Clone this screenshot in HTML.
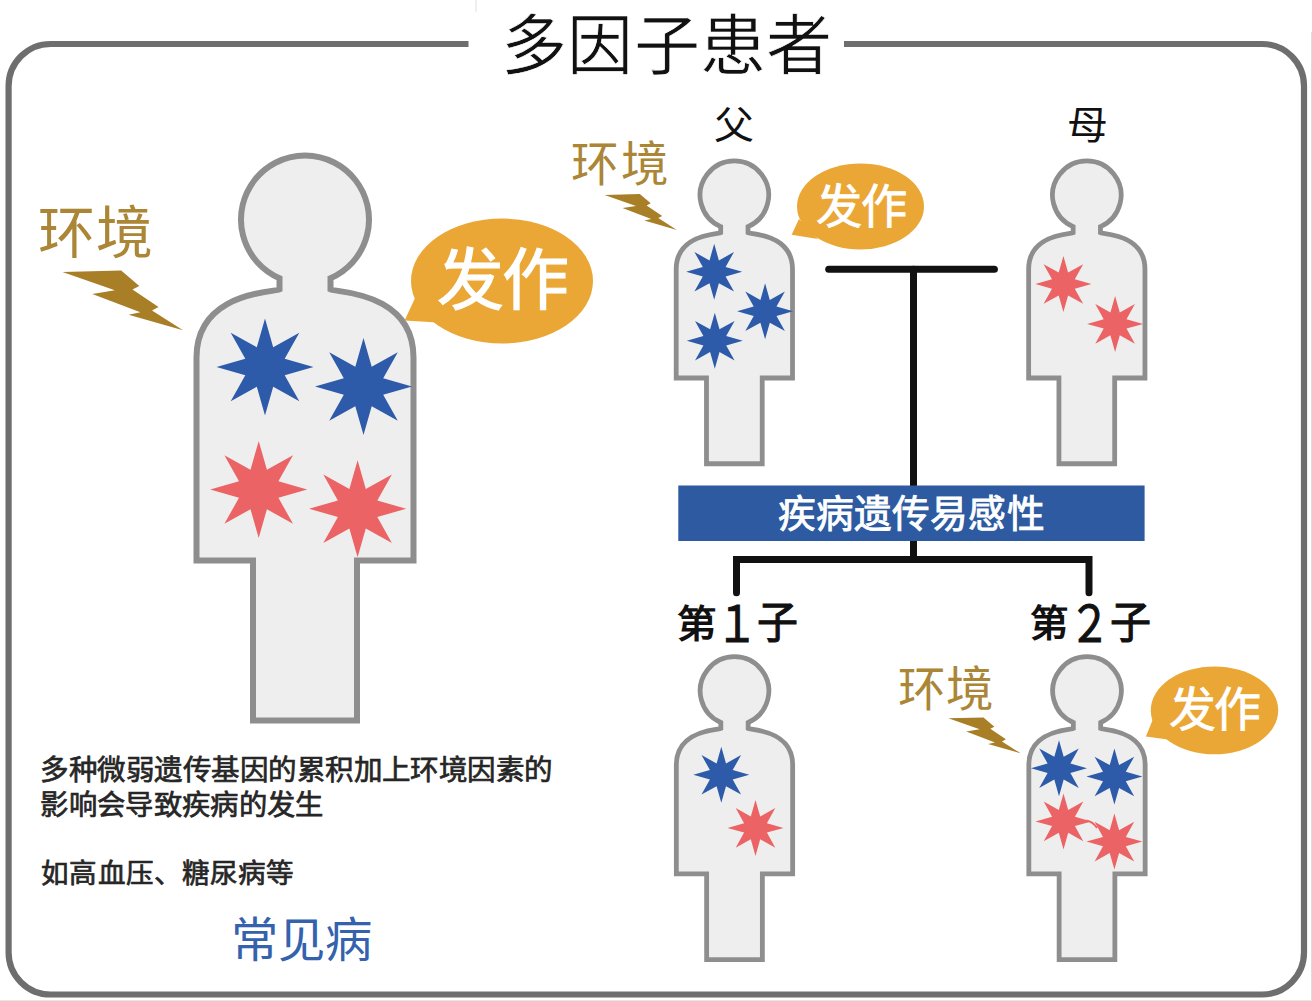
<!DOCTYPE html>
<html lang="zh-CN"><head><meta charset="utf-8"><title>多因子患者</title>
<style>html,body{margin:0;padding:0;background:#fff;width:1312px;height:1001px;overflow:hidden}svg{display:block;font-family:"Liberation Sans",sans-serif}</style>
</head><body>
<svg width="1312" height="1001" viewBox="0 0 1312 1001">
<rect width="1312" height="1001" fill="#fff"/>
<path d="M468.5,44 H50.6 A42,42 0 0 0 8.6,86 V952.5 A42,42 0 0 0 50.6,994.5 H1262 A42,42 0 0 0 1304,952.5 V86 A42,42 0 0 0 1262,44 H844" fill="none" stroke="#6e6e6e" stroke-width="6.2"/>
<line x1="476" y1="0" x2="476" y2="12" stroke="#efefef" stroke-width="2"/>
<line x1="1311.5" y1="32" x2="1311.5" y2="1001" stroke="#dcdcdc" stroke-width="1"/><line x1="0" y1="1000.5" x2="1312" y2="1000.5" stroke="#e6e6e6" stroke-width="1"/>
<path d="M279.50,278.20 A64.00,64.00 0 1 1 330.50,278.20 L330.50,289.50 C335.00,292.00 413.50,291.50 413.50,357.50 L413.50,560.50 L357.00,560.50 L357.00,720.50 L253.00,720.50 L253.00,560.50 L196.50,560.50 L196.50,357.50 C196.50,291.50 275.00,292.00 279.50,289.50 Z" fill="#eeeeee" stroke="#8e8e8e" stroke-width="6.0" stroke-linejoin="miter"/>
<polygon fill="#2d5baa" points="265.0,318.5 273.2,347.3 299.3,332.7 284.7,358.8 313.5,367.0 284.7,375.2 299.3,401.3 273.2,386.7 265.0,415.5 256.8,386.7 230.7,401.3 245.3,375.2 216.5,367.0 245.3,358.8 230.7,332.7 256.8,347.3"/>
<polygon fill="#2d5baa" points="363.5,338.0 371.7,366.8 397.8,352.2 383.2,378.3 412.0,386.5 383.2,394.7 397.8,420.8 371.7,406.2 363.5,435.0 355.3,406.2 329.2,420.8 343.8,394.7 315.0,386.5 343.8,378.3 329.2,352.2 355.3,366.8"/>
<polygon fill="#eb6364" points="258.7,441.0 266.9,469.8 293.0,455.2 278.4,481.3 307.2,489.5 278.4,497.7 293.0,523.8 266.9,509.2 258.7,538.0 250.5,509.2 224.4,523.8 239.0,497.7 210.2,489.5 239.0,481.3 224.4,455.2 250.5,469.8"/>
<polygon fill="#eb6364" points="357.6,460.3 365.8,489.1 391.9,474.5 377.3,500.6 406.1,508.8 377.3,517.0 391.9,543.1 365.8,528.5 357.6,557.3 349.4,528.5 323.3,543.1 337.9,517.0 309.1,508.8 337.9,500.6 323.3,474.5 349.4,489.1"/>
<polygon fill="#a87e26" points="62.5,272.0 121.2,270.5 139.3,286.0 132.5,289.5 158.5,307.0 152.0,310.5 183.0,330.3 128.6,314.8 140.4,312.2 92.3,294.0 114.8,290.3"/>
<ellipse cx="502.0" cy="281.0" rx="91.0" ry="62.5" fill="#eaa736"/><polygon fill="#eaa736" points="404.6,320.5 416.0,296.0 445.0,323.0"/>
<path d="M720.68,226.66 A34.30,34.30 0 1 1 748.02,226.66 L748.02,232.72 C750.43,234.06 792.51,233.79 792.51,269.17 L792.51,377.98 L762.22,377.98 L762.22,463.74 L706.48,463.74 L706.48,377.98 L676.19,377.98 L676.19,269.17 C676.19,233.79 718.27,234.06 720.68,232.72 Z" fill="#eeeeee" stroke="#8e8e8e" stroke-width="4.8" stroke-linejoin="miter"/>
<path d="M1073.13,226.66 A34.30,34.30 0 1 1 1100.47,226.66 L1100.47,232.72 C1102.88,234.06 1144.96,233.79 1144.96,269.17 L1144.96,377.98 L1114.67,377.98 L1114.67,463.74 L1058.93,463.74 L1058.93,377.98 L1028.64,377.98 L1028.64,269.17 C1028.64,233.79 1070.72,234.06 1073.13,232.72 Z" fill="#eeeeee" stroke="#8e8e8e" stroke-width="4.8" stroke-linejoin="miter"/>
<path d="M720.83,722.46 A34.30,34.30 0 1 1 748.17,722.46 L748.17,728.52 C750.58,729.86 792.66,729.59 792.66,764.97 L792.66,873.78 L762.37,873.78 L762.37,959.54 L706.63,959.54 L706.63,873.78 L676.34,873.78 L676.34,764.97 C676.34,729.59 718.42,729.86 720.83,728.52 Z" fill="#eeeeee" stroke="#8e8e8e" stroke-width="4.8" stroke-linejoin="miter"/>
<path d="M1073.33,722.46 A34.30,34.30 0 1 1 1100.67,722.46 L1100.67,728.52 C1103.08,729.86 1145.16,729.59 1145.16,764.97 L1145.16,873.78 L1114.87,873.78 L1114.87,959.54 L1059.13,959.54 L1059.13,873.78 L1028.84,873.78 L1028.84,764.97 C1028.84,729.59 1070.92,729.86 1073.33,728.52 Z" fill="#eeeeee" stroke="#8e8e8e" stroke-width="4.8" stroke-linejoin="miter"/>
<polygon fill="#2d5baa" points="714.2,243.8 718.9,260.4 734.0,252.0 725.6,267.1 742.2,271.8 725.6,276.5 734.0,291.6 718.9,283.2 714.2,299.8 709.5,283.2 694.4,291.6 702.8,276.5 686.2,271.8 702.8,267.1 694.4,252.0 709.5,260.4"/>
<polygon fill="#2d5baa" points="765.1,283.3 769.8,299.9 784.9,291.5 776.5,306.6 793.1,311.3 776.5,316.0 784.9,331.1 769.8,322.7 765.1,339.3 760.4,322.7 745.3,331.1 753.7,316.0 737.1,311.3 753.7,306.6 745.3,291.5 760.4,299.9"/>
<polygon fill="#2d5baa" points="714.8,312.7 719.5,329.3 734.6,320.9 726.2,336.0 742.8,340.7 726.2,345.4 734.6,360.5 719.5,352.1 714.8,368.7 710.1,352.1 695.0,360.5 703.4,345.4 686.8,340.7 703.4,336.0 695.0,320.9 710.1,329.3"/>
<polygon fill="#eb6364" points="1063.4,256.0 1068.1,272.6 1083.2,264.2 1074.8,279.3 1091.4,284.0 1074.8,288.7 1083.2,303.8 1068.1,295.4 1063.4,312.0 1058.7,295.4 1043.6,303.8 1052.0,288.7 1035.4,284.0 1052.0,279.3 1043.6,264.2 1058.7,272.6"/>
<polygon fill="#eb6364" points="1115.1,295.9 1119.8,312.5 1134.9,304.1 1126.5,319.2 1143.1,323.9 1126.5,328.6 1134.9,343.7 1119.8,335.3 1115.1,351.9 1110.4,335.3 1095.3,343.7 1103.7,328.6 1087.1,323.9 1103.7,319.2 1095.3,304.1 1110.4,312.5"/>
<polygon fill="#2d5baa" points="721.3,746.8 726.0,763.4 741.1,755.0 732.7,770.1 749.3,774.8 732.7,779.5 741.1,794.6 726.0,786.2 721.3,802.8 716.6,786.2 701.5,794.6 709.9,779.5 693.3,774.8 709.9,770.1 701.5,755.0 716.6,763.4"/>
<polygon fill="#eb6364" points="755.5,799.9 760.2,816.5 775.3,808.1 766.9,823.2 783.5,827.9 766.9,832.6 775.3,847.7 760.2,839.3 755.5,855.9 750.8,839.3 735.7,847.7 744.1,832.6 727.5,827.9 744.1,823.2 735.7,808.1 750.8,816.5"/>
<polygon fill="#2d5baa" points="1059.0,740.2 1063.7,756.8 1078.8,748.4 1070.4,763.5 1087.0,768.2 1070.4,772.9 1078.8,788.0 1063.7,779.6 1059.0,796.2 1054.3,779.6 1039.2,788.0 1047.6,772.9 1031.0,768.2 1047.6,763.5 1039.2,748.4 1054.3,756.8"/>
<polygon fill="#2d5baa" points="1114.4,748.5 1119.1,765.1 1134.2,756.7 1125.8,771.8 1142.4,776.5 1125.8,781.2 1134.2,796.3 1119.1,787.9 1114.4,804.5 1109.7,787.9 1094.6,796.3 1103.0,781.2 1086.4,776.5 1103.0,771.8 1094.6,756.7 1109.7,765.1"/>
<polygon fill="#eb6364" points="1063.5,793.4 1068.2,810.0 1083.3,801.6 1074.9,816.7 1091.5,821.4 1074.9,826.1 1083.3,841.2 1068.2,832.8 1063.5,849.4 1058.8,832.8 1043.7,841.2 1052.1,826.1 1035.5,821.4 1052.1,816.7 1043.7,801.6 1058.8,810.0"/>
<polygon fill="#eb6364" points="1114.4,813.6 1119.1,830.2 1134.2,821.8 1125.8,836.9 1142.4,841.6 1125.8,846.3 1134.2,861.4 1119.1,853.0 1114.4,869.6 1109.7,853.0 1094.6,861.4 1103.0,846.3 1086.4,841.6 1103.0,836.9 1094.6,821.8 1109.7,830.2"/>
<polygon fill="#a87e26" points="604.6,194.9 639.8,194.0 650.7,203.3 646.6,205.4 662.2,215.9 658.3,218.0 676.9,229.9 644.3,220.6 651.3,219.0 622.5,208.1 636.0,205.9"/>
<ellipse cx="860.5" cy="206.4" rx="63.5" ry="43.0" fill="#eaa736"/><polygon fill="#eaa736" points="791.6,234.8 799.0,219.0 818.0,239.0"/>
<polygon fill="#a87e26" points="948.3,718.3 983.5,717.4 994.4,726.7 990.3,728.8 1005.9,739.3 1002.0,741.4 1020.6,753.3 988.0,744.0 995.0,742.4 966.2,731.5 979.7,729.3"/>
<ellipse cx="1214.5" cy="710.4" rx="63.7" ry="43.9" fill="#eaa736"/><polygon fill="#eaa736" points="1145.9,736.6 1153.0,719.0 1173.0,740.2"/>
<g stroke="#111" stroke-width="7" stroke-linecap="round" fill="none"><line x1="828.7" y1="269.3" x2="994.4" y2="269.3"/><line x1="913.5" y1="269.3" x2="913.5" y2="559.5"/><polyline points="736.5,592.7 736.5,559.5 1089,559.5 1089,592.7" stroke-linejoin="miter"/></g>
<rect x="678.3" y="485.5" width="466.3" height="55.5" fill="#2d5aa0"/>
<text x="501.00" y="69.00" font-size="66.00" textLength="331.21" lengthAdjust="spacing" fill="#111" stroke="#fff" stroke-width="0.7">多因子患者</text>
<text x="38.00" y="253.00" font-size="56.96" textLength="114.92" lengthAdjust="spacing" fill="#aa8636">环境</text>
<text x="437.00" y="303.80" font-size="66.96" textLength="131.92" lengthAdjust="spacing" fill="#fff" stroke="#fff" stroke-width="1.2">发作</text>
<text x="40.40" y="779.80" font-size="28.54" textLength="512.95" lengthAdjust="spacing" fill="#262626" stroke="#262626" stroke-width="0.7">多种微弱遗传基因的累积加上环境因素的</text>
<text x="40.40" y="815.00" font-size="28.34" textLength="282.83" lengthAdjust="spacing" fill="#262626" stroke="#262626" stroke-width="0.7">影响会导致疾病的发生</text>
<text x="41.40" y="882.60" font-size="27.57" textLength="252.71" lengthAdjust="spacing" fill="#262626" stroke="#262626" stroke-width="0.7">如高血压、糖尿病等</text>
<text x="230.60" y="956.80" font-size="47.31" textLength="141.73" lengthAdjust="spacing" fill="#3462ac">常见病</text>
<text transform="translate(714.40,139.20) scale(1.0415,1)" font-size="38.40" fill="#111">父</text>
<text transform="translate(1067.00,139.40) scale(1.0463,1)" font-size="39.05" fill="#111">母</text>
<path d="M1086,820.5 Q1093,821.5 1097,828" fill="none" stroke="#eb6364" stroke-width="2"/>
<text x="570.80" y="180.80" font-size="47.64" textLength="98.28" lengthAdjust="spacing" fill="#aa8636">环境</text>
<text x="816.20" y="223.00" font-size="46.22" textLength="90.65" lengthAdjust="spacing" fill="#fff" stroke="#fff" stroke-width="0.8">发作</text>
<text x="897.80" y="706.20" font-size="47.57" textLength="96.14" lengthAdjust="spacing" fill="#aa8636">环境</text>
<text x="1169.00" y="725.80" font-size="46.87" textLength="91.94" lengthAdjust="spacing" fill="#fff" stroke="#fff" stroke-width="0.8">发作</text>
<text x="777.60" y="527.00" font-size="37.68" textLength="266.94" lengthAdjust="spacing" fill="#fff" stroke="#fff" stroke-width="0.9">疾病遗传易感性</text>
<text transform="translate(676.80,637.30) scale(1.0410,1)" font-size="38.07" font-weight="bold" fill="#111">第</text>
<text transform="translate(1029.60,637.00) scale(1.0285,1)" font-size="37.46" font-weight="bold" fill="#111">第</text>
<text transform="translate(715.60,641.80) scale(0.8298,1)" font-size="50.41" fill="#111" stroke="#111" stroke-width="1.1">１</text>
<text transform="translate(757.20,637.80) scale(0.9582,1)" font-size="42.71" fill="#111" stroke="#111" stroke-width="1.1">子</text>
<text transform="translate(1068.60,642.00) scale(0.8219,1)" font-size="50.04" fill="#111" stroke="#111" stroke-width="1.1">２</text>
<text transform="translate(1110.00,638.00) scale(0.9487,1)" font-size="43.23" fill="#111" stroke="#111" stroke-width="1.1">子</text>
</svg>
</body></html>
